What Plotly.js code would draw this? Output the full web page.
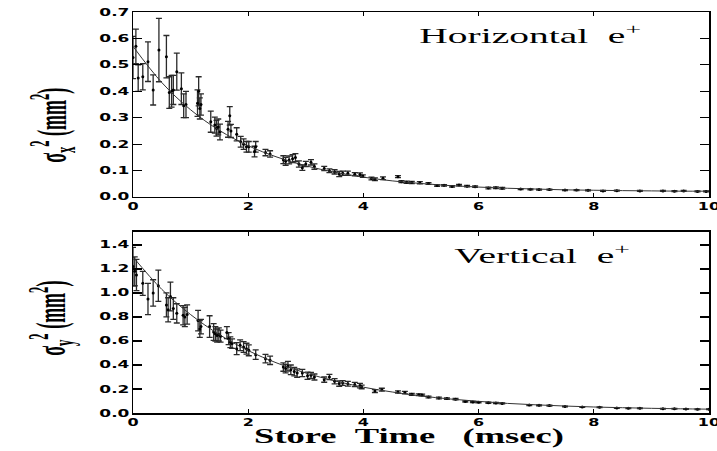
<!DOCTYPE html>
<html>
<head>
<meta charset="utf-8">
<script src="https://cdn.plot.ly/plotly-3.0.1.min.js"></script>
<style>
html,body{margin:0;padding:0;background:#fff;}
#chart{width:717px;height:451px;}
</style>
</head>
<body>
<div id="chart"></div>
<script>
// ---- Horizontal e+ (top panel) ----
var hX = [0.0,0.05,0.09,0.17,0.26,0.35,0.45,0.58,0.63,0.67,0.70,0.76,0.84,0.88,0.92,1.12,1.14,1.16,1.18,1.35,1.42,1.45,1.48,1.51,1.65,1.68,1.70,1.80,1.87,1.92,1.97,2.01,2.11,2.13,2.30,2.38,2.61,2.65,2.71,2.77,2.82,2.88,2.94,3.00,3.09,3.15,3.32,3.41,3.50,3.58,3.64,3.73,3.85,3.94,3.99,4.14,4.20,4.34,4.60,4.66,4.75,4.84,4.98,5.13,5.28,5.40,5.54,5.66,5.80,5.94,6.17,6.30,6.41,6.73,6.90,7.05,7.23,7.50,7.70,7.90,8.16,8.40,8.80,9.20,9.40,9.56,9.80,9.95];
var hY = [0.528,0.57,0.45,0.455,0.512,0.405,0.556,0.531,0.395,0.40,0.405,0.474,0.41,0.345,0.35,0.355,0.40,0.335,0.35,0.285,0.272,0.26,0.265,0.246,0.256,0.307,0.25,0.237,0.209,0.20,0.19,0.19,0.172,0.19,0.168,0.163,0.141,0.135,0.14,0.145,0.149,0.125,0.111,0.125,0.131,0.115,0.108,0.099,0.095,0.087,0.09,0.09,0.086,0.085,0.079,0.07,0.067,0.071,0.077,0.058,0.056,0.055,0.054,0.051,0.043,0.044,0.04,0.045,0.041,0.039,0.034,0.035,0.033,0.03,0.029,0.028,0.028,0.026,0.026,0.025,0.023,0.024,0.023,0.023,0.022,0.023,0.021,0.021];
var hErr = [0.08,0.065,0.05,0.05,0.075,0.057,0.12,0.08,0.06,0.06,0.055,0.07,0.06,0.045,0.05,0.05,0.055,0.04,0.04,0.04,0.03,0.03,0.03,0.03,0.03,0.035,0.025,0.025,0.02,0.02,0.02,0.02,0.02,0.02,0.012,0.012,0.015,0.015,0.015,0.015,0.015,0.012,0.01,0.01,0.01,0.01,0.008,0.007,0.008,0.01,0.008,0.008,0.006,0.006,0.005,0.005,0.005,0.005,0.004,0.004,0.004,0.004,0.004,0.003,0.003,0.003,0.003,0.003,0.003,0.003,0.003,0.003,0.003,0.002,0.002,0.002,0.002,0.002,0.002,0.002,0.002,0.002,0.002,0.002,0.002,0.002,0.002,0.002];
var fitX = [0,0.5,1,1.5,2,2.5,3,3.5,4,4.5,5,5.5,6,6.5,7,7.5,8,8.5,9,9.5,10];
var hFit = [0.57,0.433,0.33,0.252,0.194,0.151,0.118,0.094,0.075,0.061,0.051,0.043,0.0375,0.033,0.030,0.027,0.0255,0.024,0.023,0.022,0.022];

// ---- Vertical e+ (bottom panel) ----
var vX = [0.00,0.03,0.06,0.17,0.26,0.35,0.44,0.58,0.61,0.65,0.70,0.76,0.87,0.90,0.94,1.13,1.16,1.18,1.33,1.40,1.43,1.46,1.49,1.52,1.63,1.66,1.69,1.72,1.80,1.86,1.92,1.97,2.01,2.13,2.30,2.38,2.61,2.65,2.69,2.74,2.80,2.85,2.94,3.03,3.09,3.15,3.32,3.41,3.50,3.58,3.64,3.73,3.85,3.94,3.97,4.20,4.32,4.60,4.72,4.84,4.96,5.02,5.13,5.31,5.45,5.60,5.77,5.90,6.00,6.17,6.30,6.41,6.88,7.05,7.23,7.50,7.80,8.10,8.40,8.60,8.80,9.20,9.40,9.60,9.80,10.0];
var vY = [1.22,1.18,1.15,1.08,0.95,1.0,1.06,0.90,0.86,0.97,0.87,0.83,0.815,0.80,0.82,0.77,0.70,0.72,0.72,0.675,0.66,0.645,0.655,0.64,0.67,0.62,0.59,0.578,0.536,0.564,0.55,0.536,0.522,0.486,0.453,0.439,0.383,0.37,0.39,0.36,0.345,0.333,0.333,0.31,0.314,0.30,0.278,0.30,0.264,0.245,0.25,0.244,0.237,0.228,0.217,0.183,0.194,0.175,0.17,0.156,0.152,0.15,0.133,0.125,0.12,0.115,0.096,0.092,0.09,0.085,0.083,0.08,0.066,0.064,0.062,0.055,0.05,0.047,0.042,0.04,0.039,0.036,0.035,0.034,0.032,0.031];
var vErr = [0.16,0.12,0.13,0.1,0.13,0.11,0.13,0.1,0.1,0.12,0.09,0.08,0.08,0.08,0.08,0.085,0.07,0.06,0.09,0.07,0.06,0.055,0.055,0.05,0.05,0.05,0.045,0.04,0.05,0.045,0.045,0.045,0.045,0.04,0.035,0.035,0.035,0.035,0.04,0.04,0.035,0.035,0.03,0.03,0.025,0.025,0.022,0.022,0.022,0.022,0.02,0.02,0.018,0.018,0.015,0.012,0.012,0.01,0.01,0.008,0.008,0.008,0.007,0.007,0.006,0.006,0.005,0.005,0.005,0.005,0.005,0.004,0.004,0.004,0.004,0.003,0.003,0.003,0.003,0.003,0.003,0.003,0.003,0.003,0.003,0.003];
var vFit = [1.30,1.03,0.82,0.653,0.52,0.416,0.333,0.268,0.215,0.175,0.142,0.117,0.097,0.08,0.068,0.058,0.05,0.044,0.039,0.035,0.032];

var xTickVals = [0,2,4,6,8,10];
var hTickVals = [0.0,0.1,0.2,0.3,0.4,0.5,0.6,0.7];
var vTickVals = [0.0,0.2,0.4,0.6,0.8,1.0,1.2,1.4];

var errStyle = function(arr){
  return {type:'data', array:arr, visible:true, color:'#2a2a2a', thickness:1.3, width:3};
};
var markerStyle = {color:'#000', size:3, symbol:'circle'};

var traces = [
  {x:hX, y:hY, type:'scatter', mode:'markers', marker:markerStyle, error_y:errStyle(hErr), xaxis:'x', yaxis:'y', showlegend:false},
  {x:fitX, y:hFit, type:'scatter', mode:'lines', line:{color:'#333', width:1, shape:'spline'}, xaxis:'x', yaxis:'y', showlegend:false},
  {x:vX, y:vY, type:'scatter', mode:'markers', marker:markerStyle, error_y:errStyle(vErr), xaxis:'x2', yaxis:'y2', showlegend:false},
  {x:fitX, y:vFit, type:'scatter', mode:'lines', line:{color:'#333', width:1, shape:'spline'}, xaxis:'x2', yaxis:'y2', showlegend:false}
];

var tickFont = {family:'DejaVu Sans', size:10, color:'#000', weight:'bold'};
var titleFont = {family:'Liberation Serif', size:22, color:'#000', weight:'bold'};
var yTitleFont = {family:'Liberation Serif', size:18, color:'#000', weight:'bold'};
var noteFont = {family:'Liberation Serif', size:21, color:'#000'};

var axisCommon = {
  showline:true, linecolor:'#000', linewidth:1.5, mirror:'ticks',
  ticks:'inside', tickcolor:'#000', tickwidth:1.2, ticklabeloverflow:'allow',
  showgrid:false, zeroline:false, tickfont:tickFont
};

var layout = {
  width:717, height:451,
  margin:{l:133, r:8, t:12, b:38},
  paper_bgcolor:'#fff', plot_bgcolor:'#fff',
  xaxis: Object.assign({}, axisCommon, {domain:[0,1], range:[0,10], tickvals:xTickVals, ticktext:xTickVals.map(String), ticklen:4, anchor:'y'}),
  yaxis: Object.assign({}, axisCommon, {domain:[0.5387,1], range:[0,0.7], tickvals:hTickVals, tickformat:'.1f', ticklen:9, anchor:'x'}),
  xaxis2: Object.assign({}, axisCommon, {domain:[0,1], range:[0,10], tickvals:xTickVals, ticktext:xTickVals.map(String), ticklen:4, anchor:'y2',
    title:{text:'Store\u00a0\u00a0Time\u00a0\u00a0\u00a0(msec)', font:titleFont, standoff:3}}),
  yaxis2: Object.assign({}, axisCommon, {domain:[0,0.452], range:[0,1.51], tickvals:vTickVals, tickformat:'.1f', ticklen:9, anchor:'x2'}),
  annotations:[
    {xref:'paper', yref:'paper', x:-0.141, y:0.718, xanchor:'center', yanchor:'middle', textangle:-90, showarrow:false,
     text:'σ<sub>x</sub><sup>2</sup> (mm<sup>2</sup>)', font:yTitleFont},
    {xref:'paper', yref:'paper', x:-0.141, y:0.237, xanchor:'center', yanchor:'middle', textangle:-90, showarrow:false,
     text:'σ<sub>y</sub><sup>2</sup> (mm<sup>2</sup>)', font:yTitleFont},
    {xref:'x', yref:'y', x:4.92, y:0.615, xanchor:'left', yanchor:'middle', showarrow:false,
     text:'Horizontal\u00a0\u00a0e<sup>+</sup>', font:noteFont},
    {xref:'x2', yref:'y2', x:5.52, y:1.323, xanchor:'left', yanchor:'middle', showarrow:false,
     text:'Vertical\u00a0\u00a0e<sup>+</sup>', font:noteFont}
  ]
};

// The reference's lettering is drawn wide; widen the rendered text horizontally.
function stretchX(el, f, anchor, dx, dy){
  var ns = 'http://www.w3.org/2000/svg';
  var w = document.createElementNS(ns, 'g');
  el.parentNode.insertBefore(w, el);
  w.appendChild(el);
  var b = w.getBBox();
  var ax = anchor === 'left' ? b.x : (anchor === 'right' ? b.x + b.width : b.x + b.width / 2);
  w.setAttribute('transform', 'translate(' + (ax + (dx || 0)) + ',' + (dy || 0) + ') scale(' + f + ',1) translate(' + (-ax) + ',0)');
}

Plotly.newPlot('chart', traces, layout, {displayModeBar:false, staticPlot:true}).then(function(gd){
  gd.querySelectorAll('.ytick text, .y2tick text').forEach(function(t){ stretchX(t, 1.7, 'right'); });
  gd.querySelectorAll('.xtick text, .x2tick text').forEach(function(t){ stretchX(t, 1.6, 'center'); });
  gd.querySelectorAll('.x2title').forEach(function(t){ stretchX(t, 1.66, 'center', -12, -3); });
  var anns = gd.querySelectorAll('g.annotation');
  for (var i = 0; i < anns.length; i++) {
    if (i < 2) stretchX(anns[i], 2.3, 'center');
    else stretchX(anns[i], 1.88, 'left');
  }
});
</script>
</body>
</html>
